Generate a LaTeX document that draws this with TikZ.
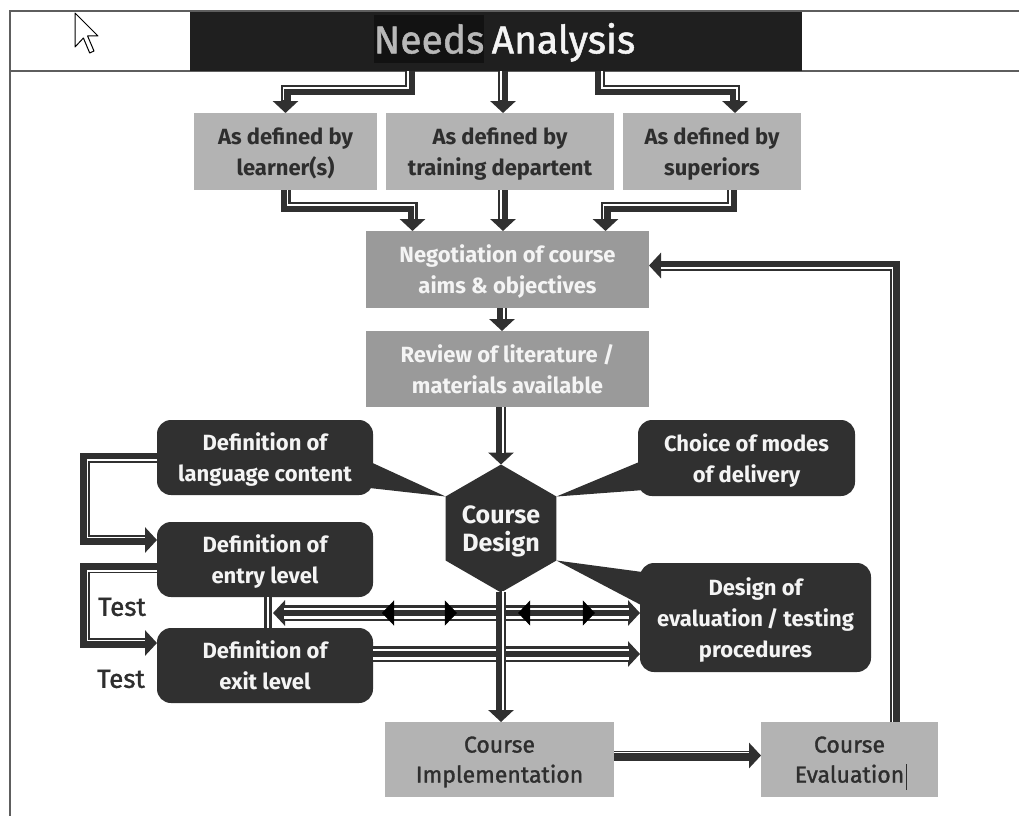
\documentclass[tikz,border=0pt]{standalone}
\usepackage{fontspec}
\setmainfont{Fira Sans}
\newfontfamily\medf{Fira Sans}[FakeBold=1.3]
\usetikzlibrary{arrows.meta,shapes.geometric,decorations.markings,calc}
\definecolor{dk}{HTML}{303030}
\definecolor{tb}{HTML}{1F1F1F}
\definecolor{nb}{HTML}{121212}
\definecolor{ng}{HTML}{B8B8B8}
\definecolor{lg}{HTML}{B3B3B3}
\definecolor{mg}{HTML}{9A9A9A}
\definecolor{tx}{HTML}{2E2E2E}
\definecolor{fr}{HTML}{5E5E5E}
\definecolor{wt}{HTML}{F4F4F4}
\begin{document}
\begin{tikzpicture}[x=1pt,y=-1pt,
  bf/.style={font=\bfseries\fontsize{22}{31}\selectfont, text depth=0pt},
  lbox/.style={bf, fill=lg, text=tx, align=center, inner sep=0pt, outer sep=0pt, minimum height=77pt},
  mbox/.style={bf, fill=mg, text=wt, align=center, inner sep=0pt, outer sep=0pt, minimum height=77pt, minimum width=283pt},
  bbox/.style={font=\medf\fontsize{23}{30}\selectfont, text depth=0pt, fill=lg, text=tx, align=center, inner sep=0pt, outer sep=0pt, minimum height=75pt},
  call/.style={bf, fill=dk, text=wt, rounded corners=14pt, align=center, inner sep=0pt, outer sep=0pt},
  hexs/.style={font=\bfseries\fontsize{25}{28}\selectfont, text depth=0pt, fill=dk, text=wt, align=center, shape=regular polygon, regular polygon sides=6, shape border rotate=30, minimum size=126pt, inner sep=0pt, outer sep=0pt},
  conn/.style={draw=dk, line width=10pt},
  arr/.style={-{Triangle[width=25pt,length=12pt]}},
  hl/.style={draw=white, line width=1.6pt},
  trk/.style={draw=dk, line width=16pt},
  trw/.style={draw=white, line width=11pt, shorten <=11pt, shorten >=11pt},
  trc/.style={draw=dk, line width=6pt, shorten <=11pt, shorten >=11pt},
  vdbl/.style={draw=dk, line width=2.6pt, double=white, double distance=2.4pt},
  framel/.style={draw=fr, line width=2.5pt},
  testl/.style={font=\medf\fontsize{26}{26}\selectfont, text=tx, inner sep=0pt},
  ttl/.style={font=\medf\fontsize{39}{39}\selectfont, inner sep=0pt}
]
\useasboundingbox (0,0) rectangle (1019,816);
\fill[white] (0,0) rectangle (1019,816);

% frame
\draw[framel] (1019,11) -- (10,11) -- (10,816);
\draw[framel] (10,71) -- (1019,71);

% title
\node[fill=tb, minimum width=612pt, minimum height=59pt, inner sep=0pt, outer sep=0pt] (title) at (496,41.5) {};
\node[ttl, fill=nb, text=ng, minimum width=110pt, minimum height=48pt] (needs) at (429,39) {Needs};
\node[ttl, text=wt, anchor=base west] (anal) at ($(needs.base east)+(7,0)$) {Analysis};

% mouse pointer
\filldraw[fill=white, draw=black, line width=1pt, line join=round] (75,13) -- ++(0,34) -- ++(8.4,-9) -- ++(6.3,15) -- ++(4.3,-2) -- ++(-6.4,-15) -- ++(10.4,0) -- cycle;

% boxes
\node[lbox, minimum width=183pt] (L1) at (285.5,151.5) {As defined by\\learner(s)};
\node[lbox, minimum width=228pt] (M1) at (500,151.5) {As defined by\\training departent};
\node[lbox, minimum width=178pt] (R1) at (712,151.5) {As defined by\\superiors};
\node[mbox] (neg) at (507.5,269.5) {Negotiation of course\\aims \& objectives};
\node[mbox, minimum height=76pt] (rev) at (507.5,369) {Review of literature /\\materials available};
\node[hexs] (hex) at (501,528.5) {Course\\Design};
\node[call, minimum width=216pt, minimum height=75pt] (lang) at (265,457.5) {Definition of\\language content};
\node[call, minimum width=216pt, minimum height=75pt] (entry) at (265,559.5) {Definition of\\entry level};
\node[call, minimum width=216pt, minimum height=75pt] (exit) at (265,665.5) {Definition of\\exit level};
\node[call, minimum width=217pt, minimum height=76pt] (choice) at (746.5,458) {Choice of modes\\of delivery};
\node[call, minimum width=231pt, minimum height=109pt] (design) at (755.5,617.5) {Design of\\evaluation\,/ testing\\procedures};
\node[bbox, minimum width=229pt] (impl) at (499.5,759.5) {Course\\Implementation};
\node[bbox, minimum width=177pt] (eval) at (849.5,759.5) {Course\\Evaluation};
\draw[tx, line width=1pt] (906,764) -- (906,790);

\node[testl] (t1) at (122,607) {Test};
\node[testl] (t2) at (121,679) {Test};

% callout tails
\fill[dk] ($(lang.east)+(-8,2)$) -- (hex.150) -- ($(lang.east)+(-8,30)$) -- cycle;
\fill[dk] ($(choice.west)+(6,2)$) -- (hex.30) -- ($(choice.west)+(6,32)$) -- cycle;
\fill[dk] ($(design.west)+(6,-45)$) -- (hex.330) -- ($(design.west)+(2,-12)$) -- cycle;

% connectors: needs analysis to sources
\draw[conn, arr] ([xshift=-86pt]title.south) -- ++(0,19) -| (L1.north);
\draw[hl] (408,71) -- (408,88) -- (283.5,88) -- (283.5,100);
\coordinate (m1t) at ([xshift=3pt]M1.north);
\draw[conn, arr] (m1t |- title.south) -- (m1t);
\draw[hl] (501,71) -- (501,100);
\draw[conn, arr] ([xshift=104pt]title.south) -- ++(0,19) -| ([xshift=23pt]R1.north);
\draw[hl] (602,71) -- (602,88) -- (737,88) -- (737,100);

% sources to negotiation
\draw[conn, arr] (L1.south) -- ++(0,17) -| ([xshift=-95pt]neg.north);
\draw[hl] (287.5,190) -- (287.5,205) -- (414.5,205) -- (414.5,219);
\coordinate (m1b) at ([xshift=3pt]M1.south);
\draw[conn, arr] (m1b) -- (m1b |- neg.north);
\draw[hl] (501,190) -- (501,219);
\draw[conn, arr] ([xshift=20pt]R1.south) -- ++(0,17) -| ([xshift=98pt]neg.north);
\draw[hl] (730,190) -- (730,205) -- (603.5,205) -- (603.5,219);

% negotiation -> review -> course design
\coordinate (nb) at ([xshift=-5.5pt]neg.south);
\draw[conn, arr] (nb) -- (nb |- rev.north);
\draw[hl] (504,308) -- (504,319);
\draw[conn, arr] (rev.south -| hex.north) -- (hex.north);
\draw[hl] (503,407) -- (503,453);

% left loops
\draw[conn, arr] (lang.west) -- ++(-72,0) |- ($(entry.west)+(0,-19.5)$);
\draw[hl] (157,460) -- (87.5,460) -- (87.5,537.5) -- (145,537.5);
\draw[conn, arr] ($(entry.west)+(0,8.5)$) -- ++(-72,0) |- ($(exit.west)+(0,-22.5)$);
\draw[hl] (157,571) -- (87.5,571) -- (87.5,640.5) -- (145,640.5);

% entry-exit link and double headed line to design
\coordinate (ev) at ($(entry.south)+(3,0)$);
\draw[vdbl] (ev) -- (ev |- exit.north);
\coordinate (dh) at ($(ev)+(5,16)$);
\draw[trk, {Triangle[width=25pt,length=12pt]}-{Triangle[width=25pt,length=12pt]}] (dh) -- (dh -| design.west);
\draw[trw] (dh) -- (dh -| design.west);
\draw[trc] (dh) -- (dh -| design.west);
\path[color=dk, decorate, decoration={markings,
   mark=at position 0.297 with {\arrowreversed{Triangle[width=25pt,length=12pt]}},
   mark=at position 0.501 with {\arrow{Triangle[width=25pt,length=12pt]}},
   mark=at position 0.668 with {\arrowreversed{Triangle[width=25pt,length=12pt]}},
   mark=at position 0.877 with {\arrow{Triangle[width=25pt,length=12pt]}}}] (dh) -- (dh -| design.west);

% exit -> design
\coordinate (xe) at ($(exit.east)+(0,-11.5)$);
\draw[trk, arr] (xe) -- (xe -| design.west);
\draw[trw, shorten <=0pt] (xe) -- (xe -| design.west);
\draw[trc, shorten <=0pt] (xe) -- (xe -| design.west);

% course design -> implementation (over the crossings)
\draw[conn, arr] (hex.south) -- (hex.south |- impl.north);
\draw[hl] (503,591) -- (503,710);

% implementation -> evaluation
\coordinate (ie) at ($(impl.east)+(0,-4)$);
\draw[conn, arr] (ie) -- (eval.west |- ie);
\draw[hl] (614,752.5) -- (749,752.5);

% evaluation -> negotiation feedback
\coordinate (ne) at ($(neg.east)+(0,-4)$);
\draw[conn, arr] ($(eval.north)+(45.5,0)$) |- (ne);
\draw[hl] (892.5,722) -- (892.5,268) -- (661,268);
\end{tikzpicture}
\end{document}
